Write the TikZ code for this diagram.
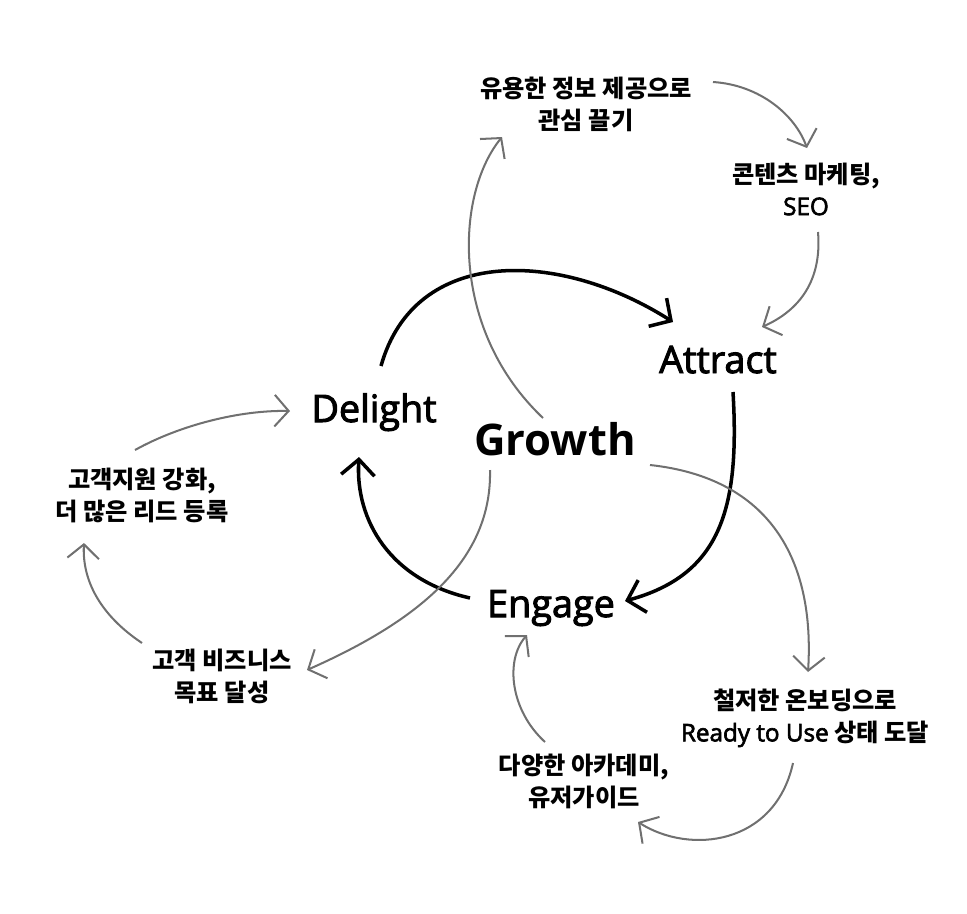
\documentclass[tikz,border=0pt]{standalone}
\usepackage{fontspec}
\setmainfont{Open Sans}
\newfontfamily\krfont{Noto Sans CJK KR}
\newfontfamily\stagefont{Open Sans}[FakeBold=2.6]
\usetikzlibrary{arrows.meta}
\definecolor{flowgray}{RGB}{112,112,112}

\begin{document}
\begin{tikzpicture}[x=0.02cm, y=-0.02cm,
  stage/.style={font=\stagefont\fontsize{21.5}{26}\selectfont, inner sep=0, anchor=base},
  hub/.style={font=\fontsize{24.8}{30}\selectfont\bfseries, inner sep=0, anchor=base},
  note/.style={font=\krfont\bfseries\fontsize{13.8}{18.2}\selectfont, align=center, inner sep=0},
  cycle/.style={line width=2pt, -{Straight Barb[length=9pt,width=19pt]}},
  side/.style={flowgray, line width=1.15pt, -{Straight Barb[length=8pt,width=18pt]}}]
  \useasboundingbox (0,0) rectangle (967,913);

  % Stages
  \node[hub] (growth) at (555,455) {Growth};
  \node[stage] (attract) at (718,373) {Attract};
  \node[stage] (delight) at (374,422) {Delight};
  \node[stage] (engage) at (551,617) {Engage};

  % Notes
  \node[note] (useful) at (586,104) {유용한 정보 제공으로\\관심 끌기};
  \node[note] (content) at (806,189) {콘텐츠 마케팅,\\{\stagefont\mdseries SEO}};
  \node[note] (onboard) at (805,718) {철저한 온보딩으로\\{\stagefont\mdseries Ready to Use} 상태 도달};
  \node[note] (academy) at (584,781) {다양한 아카데미,\\유저가이드};
  \node[note] (goal) at (222,676) {고객 비즈니스\\목표 달성};
  \node[note] (support) at (142,495) {고객지원 강화,\\더 많은 리드 등록};

  % Connector ends
  \coordinate (d-out) at (381,366);   \coordinate (a-in) at (673,322);
  \coordinate (a-out) at (733,392);   \coordinate (e-in) at (625,601);
  \coordinate (e-out) at (470,598);   \coordinate (d-in) at (359,457);
  \coordinate (g-up) at (543,418);    \coordinate (useful-in) at (502,137);
  \coordinate (useful-out) at (713,82); \coordinate (content-in) at (807,148);
  \coordinate (content-out) at (818,232); \coordinate (attract-in) at (762,327);
  \coordinate (g-right) at (650,465); \coordinate (onboard-in) at (808,672);
  \coordinate (onboard-out) at (793,763); \coordinate (academy-in) at (638,822);
  \coordinate (academy-out) at (545,742); \coordinate (engage-in) at (527,635);
  \coordinate (g-down) at (490,470);  \coordinate (goal-in) at (307,670);
  \coordinate (goal-out) at (142,643); \coordinate (support-in) at (84,543);
  \coordinate (support-out) at (135,450); \coordinate (delight-in) at (290,411);

  % Main cycle
  \draw[cycle] (d-out) .. controls (415,245) and (560,250) .. (a-in);
  \draw[cycle] (a-out) .. controls (740,510) and (720,575) .. (e-in);
  \draw[cycle] (e-out) .. controls (390,580) and (355,520) .. (d-in);

  % Attract loop
  \draw[side] (g-up) .. controls (450,330) and (455,195) .. (useful-in);
  \draw[side] (useful-out) .. controls (760,85) and (795,115) .. (content-in);
  \draw[side] (content-out) .. controls (822,280) and (800,310) .. (attract-in);

  % Engage loop
  \draw[side] (g-right) .. controls (770,478) and (815,560) .. (onboard-in);
  \draw[side] (onboard-out) .. controls (775,845) and (690,855) .. (academy-in);
  \draw[side] (academy-out) .. controls (510,710) and (505,660) .. (engage-in);

  % Delight loop
  \draw[side] (g-down) .. controls (492,560) and (420,620) .. (goal-in);
  \draw[side] (goal-out) .. controls (100,615) and (82,580) .. (support-in);
  \draw[side] (support-out) .. controls (180,425) and (240,410) .. (delight-in);
\end{tikzpicture}
\end{document}
